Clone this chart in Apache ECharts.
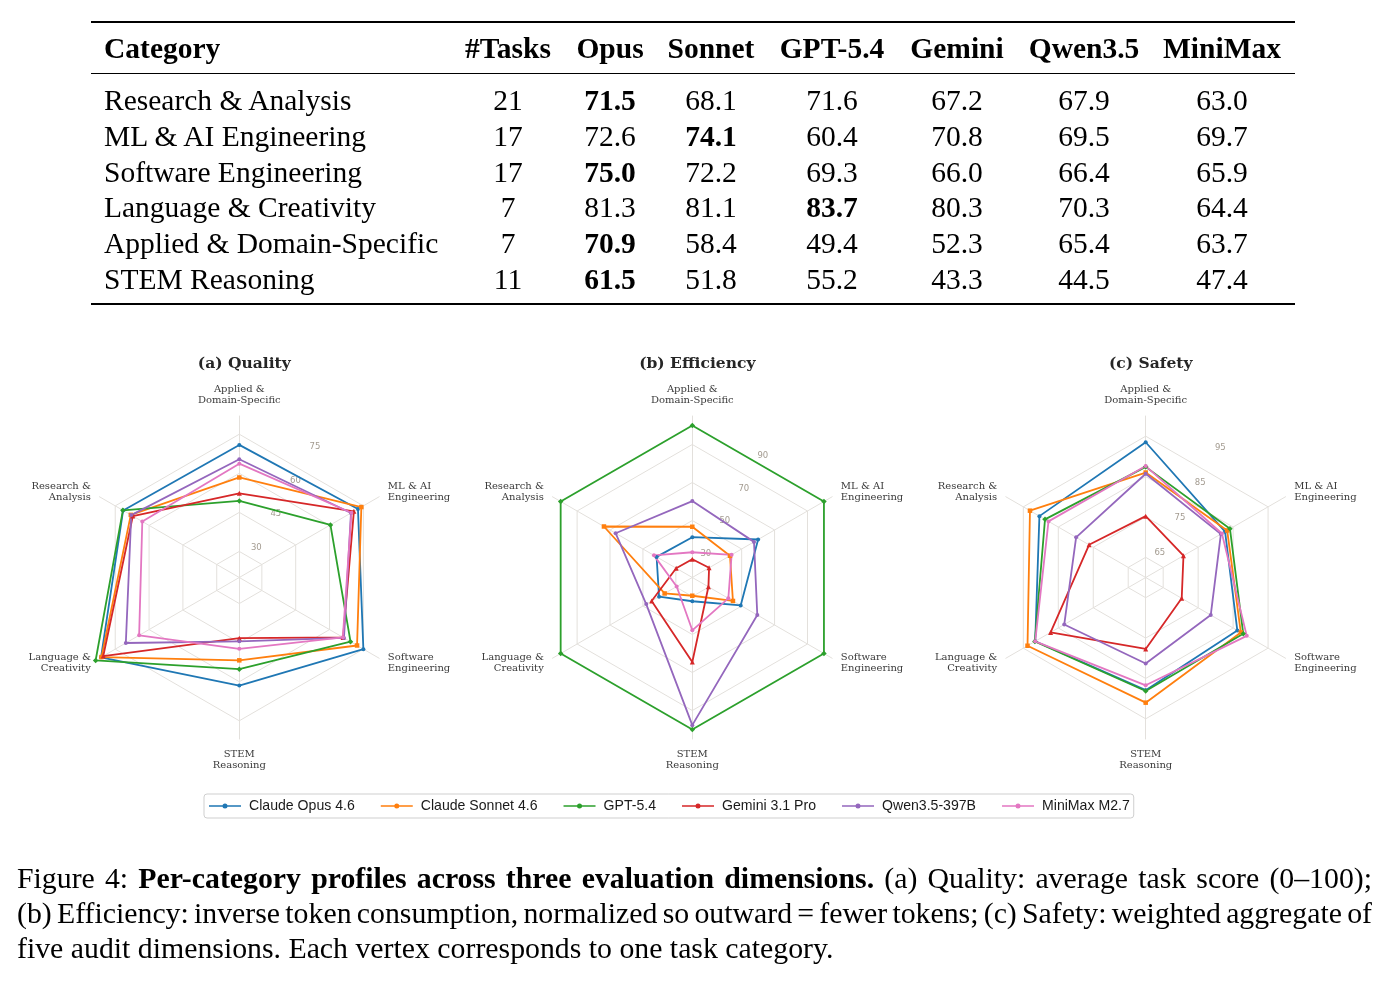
<!DOCTYPE html>
<html>
<head>
<meta charset="utf-8">
<script src="https://cdn.jsdelivr.net/npm/echarts@6/dist/echarts.min.js"></script>
<style>
body { margin: 0; background: #fff; }
#page { position: relative; width: 1388px; height: 981px; overflow: hidden; }
#chart { position: absolute; left: 0; top: 0; width: 1388px; height: 981px; }
.t { position: absolute; font-family: 'Liberation Serif', 'Times New Roman', serif; font-size: 29.5px; line-height: 34px; color: #000; white-space: nowrap; }
.c { text-align: center; width: 160px; }
.rule { position: absolute; left: 91px; width: 1204px; background: #000; }
.cap { position: absolute; left: 17px; width: 1355px; font-family: 'Liberation Serif', 'Times New Roman', serif; font-size: 29.8px; line-height: 34px; color: #000; white-space: nowrap; }
.just { text-align: justify; text-align-last: justify; }
</style>
</head>
<body>
<div id="page">
  <div id="chart"></div>
  <div id="table"></div>
  <div class="cap just" style="top:861px">Figure 4: <b>Per-category profiles across three evaluation dimensions.</b> (a) Quality: average task score (0–100);</div>
  <div class="cap just" style="top:896px; word-spacing:-3.5px">(b) Efficiency: inverse token consumption, normalized so outward = fewer tokens; (c) Safety: weighted aggregate of</div>
  <div class="cap" style="top:931px">five audit dimensions. Each vertex corresponds to one task category.</div>
</div>
<script>
// categories in table order
var categories = ['Research & Analysis', 'ML & AI Engineering', 'Software Engineering', 'Language & Creativity', 'Applied & Domain-Specific', 'STEM Reasoning'];
var axisNames = ['Research &\nAnalysis', 'ML & AI\nEngineering', 'Software\nEngineering', 'Language &\nCreativity', 'Applied &\nDomain-Specific', 'STEM\nReasoning'];
var taskCounts = [21, 17, 17, 7, 7, 11];

var models = ['Claude Opus 4.6', 'Claude Sonnet 4.6', 'GPT-5.4', 'Gemini 3.1 Pro', 'Qwen3.5-397B', 'MiniMax M2.7'];
var shortNames = ['Opus', 'Sonnet', 'GPT-5.4', 'Gemini', 'Qwen3.5', 'MiniMax'];

// quality (table values), per model, category order as above
var qualityOpus    = [71.5, 72.6, 75.0, 81.3, 70.9, 61.5];
var qualitySonnet  = [68.1, 74.1, 72.2, 81.1, 58.4, 51.8];
var qualityGpt     = [71.6, 60.4, 69.3, 83.7, 49.4, 55.2];
var qualityGemini  = [67.2, 70.8, 66.0, 80.3, 52.3, 43.3];
var qualityQwen    = [67.9, 69.5, 66.4, 70.3, 65.4, 44.5];
var qualityMinimax = [63.0, 69.7, 65.9, 64.4, 63.7, 47.4];
// which model is bold in each table row
var boldModel = [0, 1, 0, 2, 0, 0];

// efficiency
var effOpus    = [41.7, 60.0, 49.4, 40.2, 41.2, 32.5];
var effSonnet  = [73.7, 42.9, 44.7, 36.8, 46.7, 29.6];
var effGpt     = [100, 100, 100, 100, 100, 100];
var effGemini  = [29.8, 30.2, 29.8, 44.7, 29.6, 64.5];
var effQwen    = [66.6, 57.5, 59.5, 48.0, 60.2, 97.7];
var effMinimax = [43.3, 43.9, 41.9, 29.5, 33.3, 47.8];

// safety
var safeOpus    = [90.4, 82.7, 86.2, 91.6, 93.5, 87.9];
var safeSonnet  = [93.1, 83.3, 87.2, 93.8, 86.0, 91.0];
var safeGpt     = [88.8, 84.1, 87.9, 91.7, 87.4, 88.1];
var safeGemini  = [76.2, 70.8, 70.3, 87.2, 75.2, 77.7];
var safeQwen    = [79.9, 81.5, 78.6, 83.3, 85.7, 81.3];
var safeMinimax = [87.8, 81.8, 88.9, 91.6, 87.6, 86.7];

var qualityTicks = [30, 45, 60, 75];
var effTicks = [30, 50, 70, 90];
var safeTicks = [65, 75, 85, 95];

var quality = [qualityOpus, qualitySonnet, qualityGpt, qualityGemini, qualityQwen, qualityMinimax];
var efficiency = [effOpus, effSonnet, effGpt, effGemini, effQwen, effMinimax];
var safety = [safeOpus, safeSonnet, safeGpt, safeGemini, safeQwen, safeMinimax];

// ---- table ----
var table = document.getElementById('table');
function addText(html, left, top, cls, bold) {
    var d = document.createElement('div');
    d.className = 't' + (cls ? ' ' + cls : '');
    d.style.left = left + 'px';
    d.style.top = top + 'px';
    if (bold) d.style.fontWeight = 'bold';
    d.innerHTML = html;
    table.appendChild(d);
}
function addRule(top, h) {
    var d = document.createElement('div');
    d.className = 'rule';
    d.style.top = top + 'px';
    d.style.height = h + 'px';
    table.appendChild(d);
}
var colX = [508, 610, 711, 832, 957, 1084, 1222];
addRule(21, 2.4);
addRule(73, 1.4);
addRule(303, 2.4);
addText('Category', 104, 48 - 17, '', true);
addText('#Tasks', colX[0] - 80, 48 - 17, 'c', true);
shortNames.forEach(function (n, j) { addText(n, colX[j + 1] - 80, 48 - 17, 'c', true); });
categories.forEach(function (cat, i) {
    var y = 100 + i * 35.8 - 17;
    addText(cat.replace('&', '&amp;'), 104, y);
    addText(String(taskCounts[i]), colX[0] - 80, y, 'c');
    quality.forEach(function (arr, j) {
        addText(arr[i].toFixed(1), colX[j + 1] - 80, y, 'c', boldModel[i] === j);
    });
});

// ---- radar charts ----
var chart = echarts.init(document.getElementById('chart'), null, { renderer: 'canvas' });
var colors = ['#1f77b4', '#ff7f0e', '#2ca02c', '#d62728', '#9467bd', '#e377c2'];
var symbols = ['circle', 'rect', 'diamond', 'triangle', 'circle', 'circle'];
var symbolSizes = [4, 4.5, 5.5, 5, 4, 4];
var gridColor = '#e3e0dc';
// counter-clockwise from the top: Applied, Research, Language, STEM, Software, ML
var order = [4, 0, 3, 5, 2, 1];
var R = 161.5;
var cy = 577.5;

var panels = [
    { title: '(a) Quality', cx: 239.3, min: 20, max: 82, ticks: qualityTicks, data: quality },
    { title: '(b) Efficiency', cx: 692.3, min: 20, max: 105, ticks: effTicks, data: efficiency },
    { title: '(c) Safety', cx: 1145.7, min: 60, max: 100, ticks: safeTicks, data: safety }
];

var titles = [], radars = [], series = [], labels = [];
panels.forEach(function (p, i) {
    titles.push({
        text: p.title, left: p.cx, top: 351, textAlign: 'center',
        textStyle: { fontFamily: 'DejaVu Serif', fontWeight: 'bold', fontSize: 15.5, color: '#262626' }
    });
    radars.push({
        center: [p.cx, cy], radius: R, startAngle: 90, shape: 'polygon', splitNumber: 1,
        indicator: order.map(function (k) { return { name: axisNames[k], min: p.min, max: p.max }; }),
        nameGap: 10,
        axisName: { color: '#3a3a3a', fontFamily: 'DejaVu Serif', fontSize: 10, lineHeight: 11 },
        axisLine: { lineStyle: { color: gridColor, width: 1 } },
        splitLine: { show: false },
        splitArea: { show: false },
        axisTick: { show: false },
        axisLabel: { show: false }
    });
    // grid rings at the tick values
    series.push({
        type: 'radar', radarIndex: i, name: 'grid' + i, silent: true, symbol: 'none', z: 1,
        lineStyle: { color: gridColor, width: 1 },
        data: p.ticks.map(function (t) { return { value: order.map(function () { return t; }) }; })
    });
    p.data.forEach(function (arr, j) {
        series.push({
            type: 'radar', radarIndex: i, name: models[j], z: 3,
            symbol: symbols[j], symbolSize: symbolSizes[j],
            lineStyle: { color: colors[j], width: 1.8 },
            itemStyle: { color: colors[j] },
            data: [{ value: order.map(function (k) { return arr[k]; }) }]
        });
    });
    // radial tick labels, placed between the top and upper-right spokes
    p.ticks.forEach(function (t) {
        var r = (t - p.min) / (p.max - p.min) * R + 8;
        labels.push({
            type: 'text', z: 2,
            x: p.cx + r * Math.sin(Math.PI / 6), y: cy - r * Math.cos(Math.PI / 6),
            style: { text: String(t), fill: '#a39b90', font: '8.5px "DejaVu Sans"', align: 'center', verticalAlign: 'middle' }
        });
    });
});

var legendIcon = 'path://M0,1.75L32,1.75L32,3.25L0,3.25Z M13.5,2.5A2.5,2.5 0 1 1 18.5,2.5A2.5,2.5 0 1 1 13.5,2.5Z';

chart.setOption({
    animation: false,
    title: titles,
    radar: radars,
    graphic: { elements: labels },
    legend: {
        data: models.map(function (m) { return { name: m, icon: legendIcon }; }),
        left: 204, top: 794, itemWidth: 32, itemHeight: 5, itemGap: 26,
        padding: [5, 4, 5, 5],
        borderColor: '#cfcfcf', borderWidth: 1, borderRadius: 3,
        textStyle: { fontFamily: 'Liberation Sans', fontSize: 14.1, color: '#1a1a1a', padding: [0, 0, 0, 3] }
    },
    series: series
});
</script>
</body>
</html>
